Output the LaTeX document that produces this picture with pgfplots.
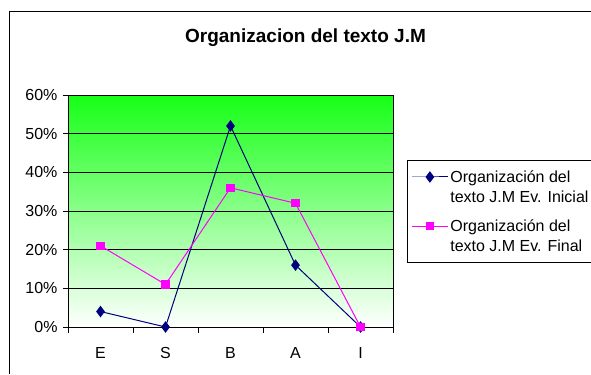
\documentclass[border=0pt]{standalone}
\usepackage{fontspec}
\setmainfont{Liberation Sans}
\usepackage{pgfplots}
\pgfplotsset{compat=1.18}
\definecolor{navyser}{RGB}{0,0,128}
\definecolor{magser}{RGB}{255,0,255}
\definecolor{topgreen}{RGB}{22,255,22}
\begin{document}
\begin{tikzpicture}[x=1bp,y=1bp]
\useasboundingbox (0,0) rectangle (591,374);
\draw[line width=1bp] (9.5,0) -- (9.5,362.5) -- (600,362.5);
\node[font=\fontsize{19bp}{22bp}\selectfont\bfseries] at (305.5,336) {Organizacion del texto J.M};
\begin{axis}[
  at={(68bp,47bp)}, anchor=south west,
  scale only axis, width=325bp, height=232bp,
  xmin=-0.5, xmax=4.5, ymin=0, ymax=60,
  xtick={0,1,2,3,4}, xticklabels={E,S,B,A,I},
  minor xtick={-0.5,0.5,1.5,2.5,3.5,4.5},
  ytick={0,10,...,60},
  yticklabel={\pgfmathprintnumber{\tick}\%},
  tick align=outside, tick pos=left,
  major tick length=5bp, minor tick length=6bp,
  major x tick style={draw=none},
  tick style={black, line width=0.8bp},
  ymajorgrids, grid style={black, line width=0.8bp},
  axis line style={black, line width=0.8bp},
  axis background/.style={top color=topgreen, bottom color=white},
  /pgf/number format/assume math mode=true,
  tick label style={font=\fontsize{16bp}{19bp}\selectfont},
  yticklabel style={xshift=-2bp},
  xticklabel style={yshift=-12bp},
  legend style={at={(1.043,0.72)}, anchor=north west, draw=black, line width=0.8bp,
    font=\fontsize{16bp}{20bp}\selectfont, cells={align=left, anchor=west},
    inner xsep=4bp, inner ysep=8bp, row sep=12bp},
  legend image code/.code={\draw[mark repeat=2,mark phase=2,#1] plot coordinates {(0bp,10bp) (18bp,10bp) (36bp,10bp)};},
]
\addplot[navyser, line width=1bp, mark=diamond*, mark size=5bp, mark options={fill=navyser}]
  coordinates {(0,4) (1,0) (2,52) (3,16) (4,0)};
\addlegendentry{Organización del\\texto J.M Ev. Inicial}
\addplot[magser, line width=1bp, mark=square*, mark size=3.6bp, mark options={fill=magser}]
  coordinates {(0,21) (1,11) (2,36) (3,32) (4,0)};
\addlegendentry{Organización del\\texto J.M Ev. Final}
\end{axis}
\end{tikzpicture}
\end{document}
